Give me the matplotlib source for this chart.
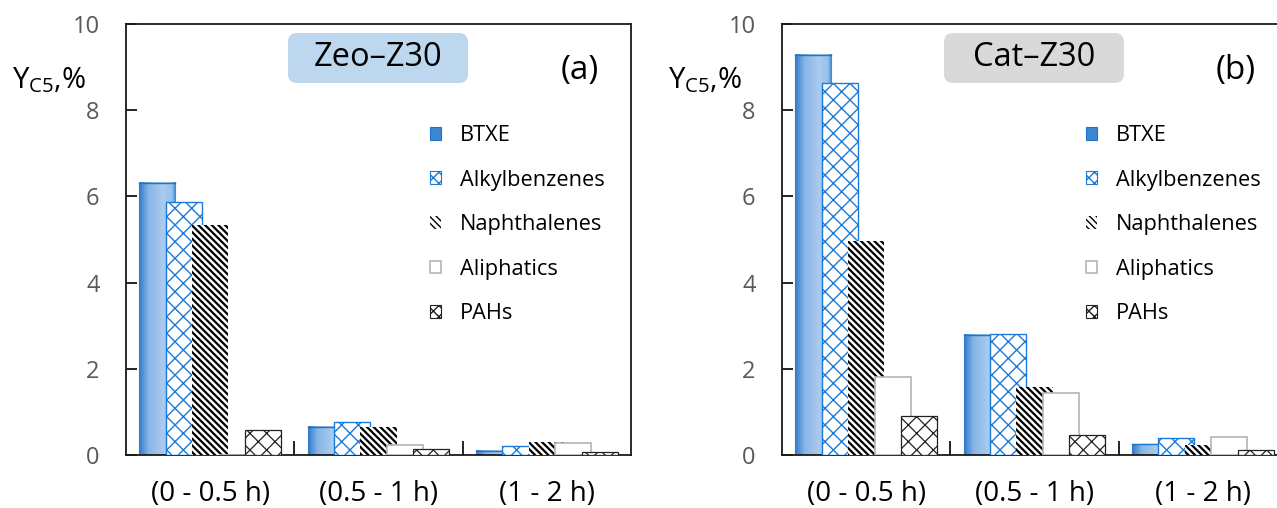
import matplotlib
matplotlib.use('Agg')
import matplotlib.pyplot as plt
import numpy as np
from matplotlib.patches import Patch, FancyBboxPatch
from matplotlib.colors import LinearSegmentedColormap
from matplotlib.ticker import FixedLocator

# ---------------- data ----------------
categories = ['(0 - 0.5 h)', '(0.5 - 1 h)', '(1 - 2 h)']
series = ['BTXE', 'Alkylbenzenes', 'Naphthalenes', 'Aliphatics', 'PAHs']

zeo_btxe = [6.32, 0.66, 0.10]
zeo_alkyl = [5.88, 0.76, 0.21]
zeo_naph = [5.34, 0.65, 0.30]
zeo_aliph = [0.0, 0.23, 0.27]
zeo_pahs = [0.58, 0.13, 0.06]

cat_btxe = [9.29, 2.79, 0.25]
cat_alkyl = [8.62, 2.80, 0.39]
cat_naph = [4.96, 1.57, 0.23]
cat_aliph = [1.80, 1.43, 0.42]
cat_pahs = [0.90, 0.46, 0.12]

panel_titles = ['Zeo–Z30', 'Cat–Z30']
panel_letters = ['(a)', '(b)']
yticks = [0, 2, 4, 6, 8, 10]
ylabel = r'Y$_{\mathrm{C5}}$,%'

FONT = 'Open Sans'
plt.rcParams['font.family'] = [FONT, 'DejaVu Sans']
plt.rcParams['mathtext.fontset'] = 'custom'
plt.rcParams['mathtext.rm'] = FONT
plt.rcParams['mathtext.it'] = FONT
plt.rcParams['hatch.linewidth'] = 1.0

W, H = 1277, 508
fig = plt.figure(figsize=(W / 100, H / 100), dpi=100)

def fx(px):
    return px / W

def fy(py):
    return 1 - py / H

ax_l = fig.add_axes([fx(126), fy(455), fx(631) - fx(126), fy(24) - fy(455)])
ax_r = fig.add_axes([fx(782), fy(455), fx(1287) - fx(782), fy(24) - fy(455)])

blue = '#1f74c8'
grad_cmap = LinearSegmentedColormap.from_list(
    'g', [(0, '#2f7bcc'), (0.25, '#86b5e5'), (0.65, '#a9cbee'), (0.9, '#98c0ea'), (1, '#3b86d3')])

step = 0.157
width = 0.214
x = np.arange(len(categories))

def draw_panel(ax, data, title, letter, boxcolor):
    btxe, alkyl, naph, aliph, pahs = data
    offs = [(i - 2) * step for i in range(5)]
    # BTXE gradient bars
    bars = ax.bar(x + offs[0], btxe, width, color='#6aa4e0', edgecolor=blue, lw=0.8, zorder=2)
    grad = np.linspace(0, 1, 64).reshape(1, -1)
    for b in bars:
        bx, bw, bh = b.get_x(), b.get_width(), b.get_height()
        ax.imshow(grad, extent=[bx, bx + bw, 0, bh], aspect='auto', cmap=grad_cmap,
                  zorder=2.1, interpolation='bilinear')
        ax.plot([bx, bx + bw], [bh, bh], color=blue, lw=1.0, zorder=2.2)
    # Alkylbenzenes
    with plt.rc_context({'hatch.linewidth': 1.0}):
        ax.bar(x + offs[1], alkyl, width, facecolor='white', edgecolor='#1c7ad9',
               hatch='xx', lw=1.0, zorder=3)
    # Naphthalenes
    with plt.rc_context({'hatch.linewidth': 1.6}):
        ax.bar(x + offs[2], naph, width, facecolor='white', edgecolor='black',
               hatch='\\\\\\\\\\', lw=0, zorder=4)
    # Aliphatics
    ax.bar(x + offs[3], aliph, width, facecolor='white', edgecolor='#b5b5b5', lw=1.2, zorder=5)
    # PAHs
    with plt.rc_context({'hatch.linewidth': 0.9}):
        ax.bar(x + offs[4], pahs, width, facecolor='white', edgecolor='#222222',
               hatch='xx', lw=0.9, zorder=6)

    ax.set_xlim(-0.5, 2.5)
    ax.set_ylim(0, 10)
    ax.set_yticks(yticks)
    ax.set_yticklabels([str(t) for t in yticks])
    ax.tick_params(axis='y', direction='in', length=8, width=1.2, pad=19,
                   labelsize=17, labelcolor='#595959')
    ax.set_xticks(x)
    ax.set_xticklabels(categories)
    ax.tick_params(axis='x', which='major', length=0, pad=18, labelsize=20, labelcolor='black')
    ax.xaxis.set_minor_locator(FixedLocator([0.5, 1.5]))
    ax.tick_params(axis='x', which='minor', direction='in', length=10, width=1.2)
    for s in ax.spines.values():
        s.set_linewidth(1.3)
        s.set_color('#1a1a1a')

    # title box
    aw, ah = 505, 431
    x0, x1 = (288 - 126) / aw, (468 - 126) / aw
    y0, y1 = (455 - 83) / ah, (455 - 33) / ah
    r = 9 / aw
    box = FancyBboxPatch((x0, y0), x1 - x0, y1 - y0,
                         boxstyle=f'round,pad=0,rounding_size={r}',
                         mutation_aspect=aw / ah, transform=ax.transAxes,
                         fc=boxcolor, ec='none', zorder=7)
    ax.add_patch(box)
    ax.text((x0 + x1) / 2, (y0 + y1) / 2, title, transform=ax.transAxes, ha='center',
            va='center', fontsize=23.5, zorder=8)
    ax.text((580 - 126) / aw, (455 - 70) / ah, letter, transform=ax.transAxes,
            ha='center', va='center', fontsize=24, zorder=8)

    handles = [
        Patch(facecolor='#3a86d3', edgecolor=blue, lw=0.8),
        Patch(facecolor='white', edgecolor='#1c7ad9', hatch='xxx', lw=0.8),
        Patch(facecolor='white', edgecolor='black', hatch='\\\\\\\\\\', lw=0),
        Patch(facecolor='white', edgecolor='#b5b5b5', lw=1.2),
        Patch(facecolor='white', edgecolor='#222222', hatch='xxx', lw=0.8),
    ]
    leg = ax.legend(handles, series, loc='upper left',
                    bbox_to_anchor=((430 - 126) / aw, (455 - 125) / ah),
                    frameon=False, fontsize=15.7, handlelength=0.52, handleheight=0.52,
                    handletextpad=0.85, labelspacing=1.08, borderaxespad=0, borderpad=0)
    leg.set_zorder(9)

draw_panel(ax_l, (zeo_btxe, zeo_alkyl, zeo_naph, zeo_aliph, zeo_pahs),
           panel_titles[0], panel_letters[0], '#bdd7ee')
draw_panel(ax_r, (cat_btxe, cat_alkyl, cat_naph, cat_aliph, cat_pahs),
           panel_titles[1], panel_letters[1], '#d9d9d9')

fig.text(fx(49), fy(80), ylabel, ha='center', va='center', fontsize=21)
fig.text(fx(705), fy(80), ylabel, ha='center', va='center', fontsize=21)

fig.savefig('out.png', dpi=100)
